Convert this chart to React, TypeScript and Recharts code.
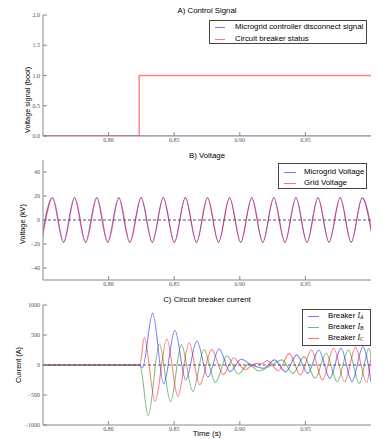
import React from "react";
import { LineChart, Line, XAxis, YAxis, ReferenceLine } from "recharts";

// tick values
const timeTicks = [0.8, 0.85, 0.9, 0.95];
const signalTicks = [0, 0.5, 1, 1.5, 2];
const voltageTicks = [-40, -20, 0, 20, 40];
const currentTicks = [-1000, -500, 0, 500, 1000];

// A) control signal
const disconnectTime = [0.75, 1.0];
const disconnectValue = [0, 0];
const breakerTime = [0.75, 0.8233, 1.0];
const breakerValue = [0, 1, 1];

// B) voltage, peaks and troughs (kV)
const gridTime = [
  0.749, 0.7575, 0.7659, 0.7743, 0.7827, 0.7912, 0.7996, 0.808, 0.8164, 0.8248,
  0.8333, 0.8417, 0.8501, 0.8585, 0.867, 0.8754, 0.8838, 0.8922, 0.9007, 0.9091,
  0.9175, 0.9259, 0.9344, 0.9428, 0.9512, 0.9596, 0.968, 0.9765, 0.9849, 0.9933, 1.0017,
];
const gridKv = [
  -18.6, 18.6, -18.6, 18.6, -18.6, 18.6, -18.6, 18.6, -18.6, 18.6,
  -18.6, 18.6, -18.6, 18.6, -18.6, 18.6, -18.6, 18.6, -18.6, 18.6,
  -18.6, 18.6, -18.6, 18.6, -18.6, 18.6, -18.6, 18.6, -18.6, 18.6, -18.6,
];
const microgridTime = [
  0.7486, 0.7571, 0.7655, 0.7739, 0.7823, 0.7908, 0.7992, 0.8076, 0.816, 0.8248,
  0.8333, 0.8417, 0.8501, 0.8585, 0.867, 0.8754, 0.8838, 0.8922, 0.9007, 0.9091,
  0.9175, 0.9259, 0.9344, 0.9428, 0.9512, 0.9596, 0.968, 0.9765, 0.9849, 0.9933, 1.0017,
];
const microgridKv = [
  -18.6, 18.6, -18.6, 18.6, -18.6, 18.6, -18.6, 18.6, -18.6, 18.6,
  -18.6, 18.6, -18.6, 18.6, -18.6, 18.6, -18.6, 18.6, -18.6, 18.6,
  -18.6, 18.6, -18.6, 18.6, -18.6, 18.6, -18.6, 18.6, -18.6, 18.6, -18.6,
];

// C) breaker currents, extremes (A)
const iaTime = [
  0.75, 0.8238, 0.8258, 0.8336, 0.842, 0.8505, 0.8588, 0.8673, 0.8757, 0.8842,
  0.8925, 0.901, 0.9092, 0.9181, 0.9265, 0.9349, 0.9434, 0.9518, 0.9602, 0.9686,
  0.9771, 0.9855, 0.9938, 1.0,
];
const iaAmp = [
  0, 0, -50, 865, -315, 580, -250, 400, -200, 272,
  -110, 95, 0, -55, 85, -115, 168, -140, 250, -222,
  280, -278, 305, -280,
];
const ibTime = [
  0.75, 0.8238, 0.8302, 0.8387, 0.8472, 0.8555, 0.8642, 0.8727, 0.8814, 0.8902,
  0.8988, 0.9065, 0.9145, 0.9231, 0.9322, 0.9405, 0.949, 0.9574, 0.9658, 0.9742,
  0.9827, 0.9911, 0.9985, 1.0,
];
const ibAmp = [
  0, 0, -840, 350, -610, 340, -440, 255, -290, 155,
  -150, 15, -100, -15, 85, -140, 140, -222, 195, -278,
  250, -305, 278, 130,
];
const icTime = [
  0.75, 0.8238, 0.8272, 0.8354, 0.8444, 0.8528, 0.8613, 0.8695, 0.8785, 0.8875,
  0.8952, 0.9041, 0.9123, 0.9162, 0.9209, 0.9294, 0.9378, 0.9462, 0.9546, 0.9631,
  0.9715, 0.9799, 0.9882, 0.9967, 1.0,
];
const icAmp = [
  0, 0, 456, -605, 433, -522, 367, -328, 256, -161,
  117, -78, 30, 15, 75, -95, 190, -167, 250, -250,
  278, -278, 290, -290, 140,
];

const zip = (ts: number[], vs: number[]) => ts.map((t, i) => ({ t, v: vs[i] }));

const sans = "'Liberation Sans', Arial, sans-serif";
const serif = "'Liberation Serif', 'Times New Roman', serif";
const frameColor = "#888";
const BLUE = "#0000ff";
const GREEN = "#008000";
const RED = "#ff0000";
const tickStyle = { fontSize: 6, fill: "#555", fontFamily: serif };
const minus = (v: number) => (v < 0 ? "\u2212" + Math.abs(v) : String(v));

// box around the axes with inward ticks on all four sides
const frame = (domain: number[], yTicks: number[], fmt: (v: number) => string, xHeight: number) => [
  <XAxis
    key="xb"
    dataKey="t"
    type="number"
    domain={[0.75, 1]}
    allowDataOverflow
    ticks={timeTicks}
    interval={0}
    tickFormatter={(v: number) => v.toFixed(2)}
    height={xHeight}
    stroke={frameColor}
    tickSize={-4}
    tickMargin={6}
    tick={tickStyle}
  />,
  <XAxis
    key="xt"
    xAxisId="top"
    orientation="top"
    type="number"
    domain={[0.75, 1]}
    allowDataOverflow
    ticks={timeTicks}
    interval={0}
    height={0}
    stroke={frameColor}
    tickSize={-4}
    tick={false}
  />,
  <YAxis
    key="yl"
    type="number"
    domain={domain}
    allowDataOverflow
    ticks={yTicks}
    interval={0}
    tickFormatter={fmt}
    width={43}
    stroke={frameColor}
    tickSize={-4}
    tickMargin={7}
    tick={tickStyle}
  />,
  <YAxis
    key="yr"
    yAxisId="right"
    orientation="right"
    type="number"
    domain={domain}
    allowDataOverflow
    ticks={yTicks}
    interval={0}
    width={0}
    stroke={frameColor}
    tickSize={-4}
    tick={false}
  />,
];

const Title = ({ x, y, children }: any) => (
  <div
    style={{
      position: "absolute",
      left: x,
      top: y,
      transform: "translate(-50%, -50%)",
      fontSize: 7.8,
      lineHeight: 1,
      whiteSpace: "nowrap",
      color: "#000",
    }}
  >
    {children}
  </div>
);

const YLabel = ({ x, y, children }: any) => (
  <div
    style={{
      position: "absolute",
      left: x,
      top: y,
      transform: "translate(-50%, -50%) rotate(-90deg)",
      fontSize: 7.3,
      lineHeight: 1,
      whiteSpace: "nowrap",
    }}
  >
    {children}
  </div>
);

type Item = { color: string; label: React.ReactNode };
const LegendBox = ({ left, top, width, height, rows, lineX, lineW, textX, items }: any) => (
  <div
    style={{
      position: "absolute",
      left,
      top,
      width,
      height,
      boxSizing: "border-box",
      border: "1px solid #444",
      background: "#fff",
      fontSize: 7.8,
    }}
  >
    {(items as Item[]).map((it, i) => (
      <React.Fragment key={i}>
        <div
          style={{
            position: "absolute",
            left: lineX,
            top: Math.round(rows[i]),
            width: lineW,
            height: 1,
            background: it.color,
            opacity: 0.55,
          }}
        />
        <div
          style={{
            position: "absolute",
            left: textX,
            top: rows[i],
            transform: "translateY(-50%)",
            lineHeight: 1,
            whiteSpace: "nowrap",
          }}
        >
          {it.label}
        </div>
      </React.Fragment>
    ))}
  </div>
);

const Sub = ({ s }: { s: string }) => (
  <span style={{ fontFamily: serif, fontStyle: "italic" }}>
    I<sub style={{ fontSize: 5.5, verticalAlign: "-1.5px" }}>{s}</sub>
  </span>
);

const lineProps = {
  dataKey: "v",
  dot: false,
  activeDot: false,
  strokeOpacity: 0.5,
  strokeWidth: 1.1,
  isAnimationActive: false,
};

export default function App() {
  return (
    <div
      style={{
        position: "absolute",
        left: 0,
        top: 0,
        width: 390,
        height: 439,
        background: "#fff",
        overflow: "hidden",
        fontFamily: sans,
      }}
    >
      {/* A) Control Signal */}
      <div style={{ position: "absolute", left: 0, top: 0 }}>
        <LineChart width={390} height={150} margin={{ top: 15, right: 19, bottom: 0, left: 0 }}>
          {frame([0, 2], signalTicks, (v) => v.toFixed(1), 14)}
          <Line {...lineProps} data={zip(disconnectTime, disconnectValue)} type="linear" stroke={BLUE} />
          <Line {...lineProps} data={zip(breakerTime, breakerValue)} type="stepAfter" stroke={RED} strokeWidth={1.4} />
        </LineChart>
      </div>

      {/* B) Voltage */}
      <div style={{ position: "absolute", left: 0, top: 145 }}>
        <LineChart width={390} height={150} margin={{ top: 15, right: 19, bottom: 0, left: 0 }}>
          {frame([-50, 50], voltageTicks, minus, 15)}
          <Line {...lineProps} data={zip(microgridTime, microgridKv)} type="monotone" stroke={BLUE} />
          <Line {...lineProps} data={zip(gridTime, gridKv)} type="monotone" stroke={RED} />
          <ReferenceLine y={0} stroke="#555" strokeDasharray="3 2" />
        </LineChart>
      </div>

      {/* C) Circuit breaker current */}
      <div style={{ position: "absolute", left: 0, top: 290 }}>
        <LineChart width={390} height={149} margin={{ top: 15, right: 19, bottom: 0, left: 0 }}>
          {frame([-1000, 1000], currentTicks, minus, 14)}
          <Line {...lineProps} data={zip(iaTime, iaAmp)} type="monotone" stroke={BLUE} />
          <Line {...lineProps} data={zip(ibTime, ibAmp)} type="monotone" stroke={GREEN} />
          <Line {...lineProps} data={zip(icTime, icAmp)} type="monotone" stroke={RED} />
          <ReferenceLine y={0} stroke="#555" strokeDasharray="3 2" />
        </LineChart>
      </div>

      <Title x={207} y={11}>A) Control Signal</Title>
      <Title x={207} y={156}>B) Voltage</Title>
      <Title x={207} y={300}>C) Circuit breaker current</Title>
      <Title x={207} y={434}>Time (s)</Title>

      <YLabel x={28} y={100}>Voltage signal (bool)</YLabel>
      <YLabel x={23} y={224}>Voltage (kV)</YLabel>
      <YLabel x={19} y={365}>Current (A)</YLabel>

      <LegendBox
        left={209}
        top={20}
        width={158}
        height={24}
        rows={[5.5, 17.5]}
        lineX={5}
        lineW={10}
        textX={25}
        items={[
          { color: BLUE, label: "Microgrid controller disconnect signal" },
          { color: RED, label: "Circuit breaker status" },
        ]}
      />
      <LegendBox
        left={278}
        top={163}
        width={89}
        height={26}
        rows={[7.5, 18.7]}
        lineX={5}
        lineW={12}
        textX={25}
        items={[
          { color: BLUE, label: "Microgrid Voltage" },
          { color: RED, label: "Grid Voltage" },
        ]}
      />
      <LegendBox
        left={302}
        top={309}
        width={69}
        height={37}
        rows={[6, 17, 28]}
        lineX={5}
        lineW={11}
        textX={25}
        items={[
          { color: BLUE, label: <>Breaker <Sub s="A" /></> },
          { color: GREEN, label: <>Breaker <Sub s="B" /></> },
          { color: RED, label: <>Breaker <Sub s="C" /></> },
        ]}
      />
    </div>
  );
}
